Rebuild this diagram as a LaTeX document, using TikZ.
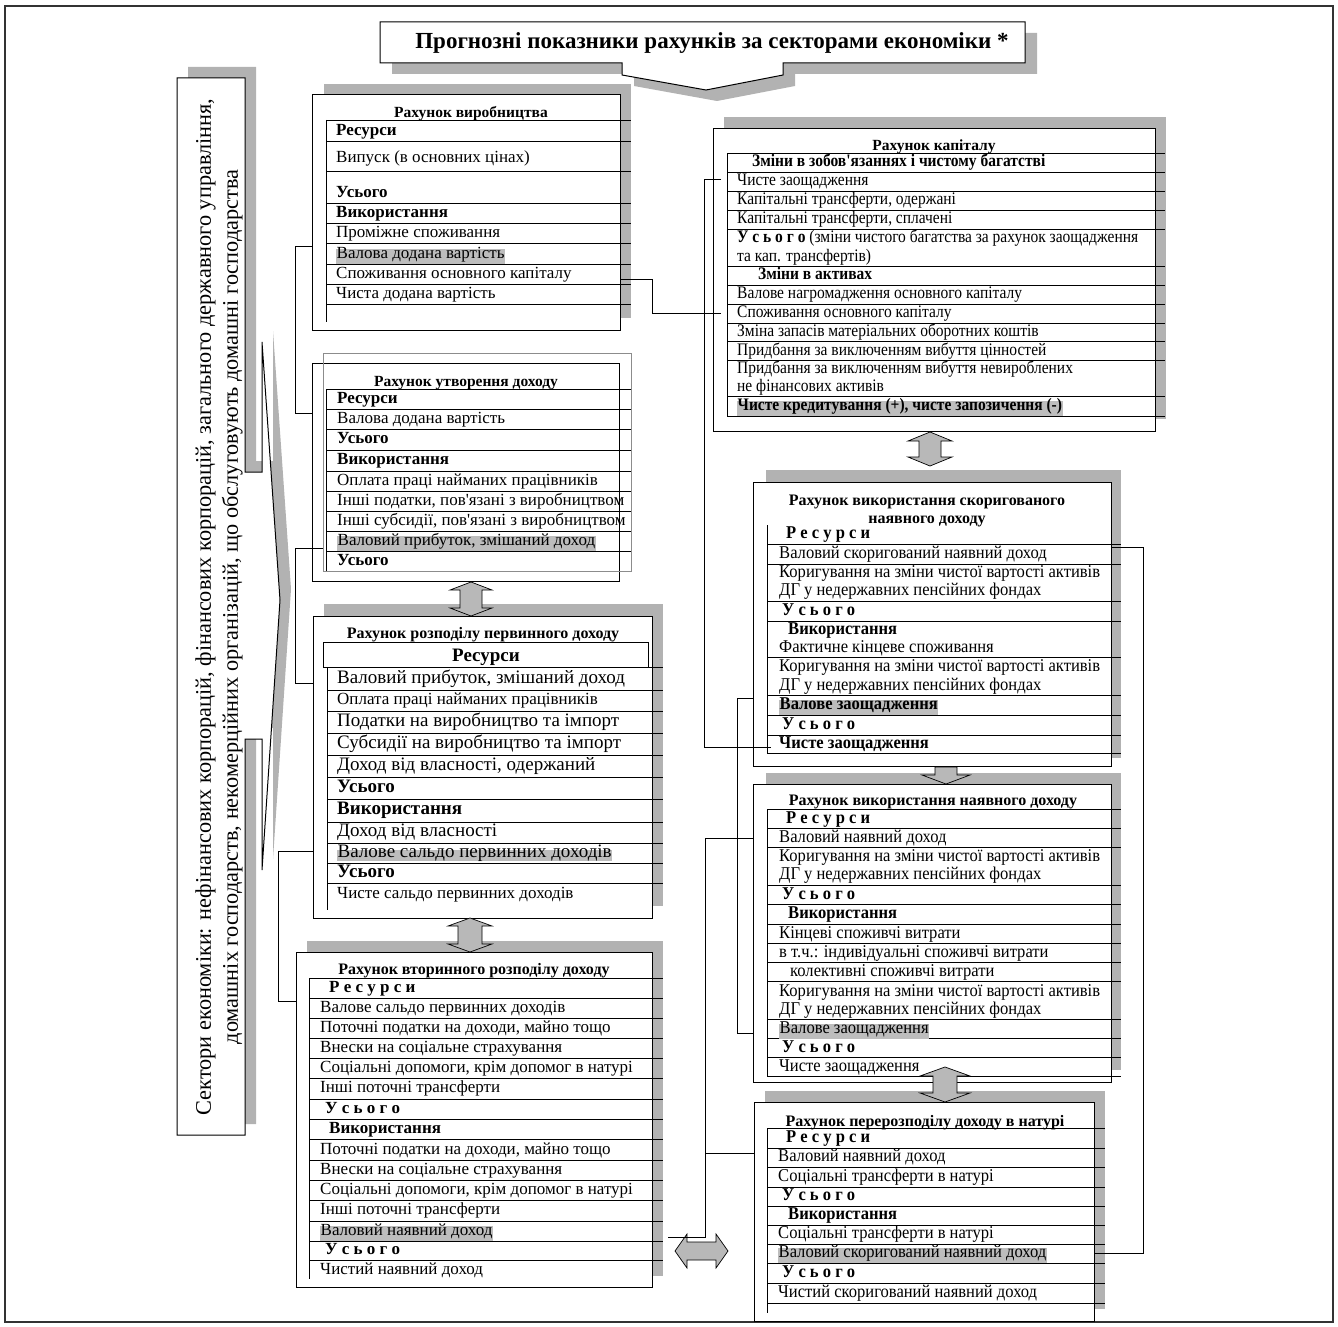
\documentclass[tikz,border=0pt]{standalone}
\usepackage{fontspec}
\setmainfont{Liberation Serif}[Ligatures=TeXOff]
\newfontfamily\condserif{Liberation Serif}[FakeStretch=0.92, Ligatures=TeXOff]
\newfontfamily\capserif{Liberation Serif}[FakeStretch=0.88, Ligatures=TeXOff]
\usetikzlibrary{calc}
\definecolor{shade}{gray}{0.70}
\definecolor{hlgray}{gray}{0.74}
\definecolor{arrgray}{gray}{0.72}

\begin{document}
\begin{tikzpicture}[x=1pt, y=-1pt,
    shadow/.style={fill=shade, draw=none},
    acct/.style={draw, line width=1pt, fill=white},
    rule/.style={line width=0.75pt},
    link/.style={line width=0.9pt},
    blockarrow/.style={draw, fill=arrgray, line width=0.7pt},
    ttl/.style={inner sep=0pt, align=center, yshift=-2pt, font=\bfseries\fontsize{15.5}{18}\selectfont},
    cell/.style={anchor=west, inner sep=0pt, yshift=-2.5pt, text height=0.7em, text depth=0.22em},
    cA/.style={cell, font=\fontsize{17}{19}\selectfont},
    cAb/.style={cell, font=\bfseries\fontsize{17}{19}\selectfont},
    cB/.style={cell, font=\fontsize{19}{21}\selectfont},
    cBb/.style={cell, font=\bfseries\fontsize{19}{21}\selectfont},
    cC/.style={cell, font=\capserif\fontsize{17.6}{19}\selectfont},
    cCb/.style={cell, font=\capserif\bfseries\fontsize{17.6}{19}\selectfont},
    cD/.style={cell, font=\condserif\fontsize{18}{20}\selectfont},
    cDb/.style={cell, font=\condserif\bfseries\fontsize{18}{20}\selectfont},
    hl/.style={fill=hlgray, inner xsep=0.5pt, inner ysep=2.5pt}
]
    \useasboundingbox (0,0) rectangle (1338,1327);
    \draw[line width=2pt, black!80] (5,6) rectangle (1333,1322);

    % title
    \fill[shadow] (392,33) -- (1037,33) -- (1037,74) -- (795,74) -- (795,86) -- (717,101) -- (634,86) -- (634,74) -- (392,74) -- cycle;
    \draw[acct] (380,22) -- (1025,22) -- (1025,63) -- (783,63) -- (783,75) -- (706,90) -- (622,75) -- (622,63) -- (380,63) -- cycle;
    \node[inner sep=0pt, yshift=-1pt, font=\bfseries\fontsize{23}{26}\selectfont] (head) at (712,42) {Прогнозні показники рахунків за секторами економіки *};

    % sectors
    \fill[shadow] (188,67) -- (256,67) -- (256,461) -- (273,461) -- (273,331) -- (291,589) -- (273,859) -- (273,728) -- (256,728) -- (256,1124) -- (188,1124) -- cycle;
    \draw[acct] (177,78) -- (245,78) -- (245,472) -- (262,472) -- (262,342) -- (280,600) -- (262,870) -- (262,739) -- (245,739) -- (245,1135) -- (177,1135) -- cycle;
    \node[rotate=90, align=center, inner sep=0pt, font=\fontsize{22.3}{27}\selectfont] (sect) at (219,607)
        {Сектори економіки: нефінансових корпорацій, фінансових корпорацій, загального державного управління,\\
         домашніх господарств, некомерційних організацій, що обслуговують домашні господарства};

    % production account
    \fill[shadow] (324,84) rectangle (631,318);
    \draw[acct] (312,95) rectangle (620,330);
    \node[ttl] (vyr) at (471,112) {Рахунок виробництва};
    \foreach \y in {120,141,171,203,223,243,264,284,304}
        \draw[rule] (326,\y) -- (631,\y);
    \draw[rule] (326,120) -- (326,322);
    \node[cAb] (vyr1) at (336,131) {Ресурси};
    \node[cA] (vyr2) at (336,158) {Випуск (в основних цінах)};
    \node[cAb] (vyr3) at (336,193) {Усього};
    \node[cAb] (vyr4) at (336,213) {Використання};
    \node[cA] (vyr5) at (336,233) {Проміжне споживання};
    \node[cA, hl] (vyr6) at (336,254) {Валова додана вартість};
    \node[cA] (vyr7) at (336,274) {Споживання основного капіталу};
    \node[cA] (vyr8) at (336,294) {Чиста додана вартість};

    % generation of income account
    \draw[acct] (312,363) rectangle (619,581);
    \draw[line width=0.8pt, black!45] (323,353) rectangle (631,571);
    \node[ttl] (ut) at (466,381) {Рахунок утворення доходу};
    \foreach \y in {389,409,429,450,471,491,511,531,551}
        \draw[rule] (326,\y) -- (631,\y);
    \draw[rule] (326,389) -- (326,571);
    \node[cAb] (ut1) at (337,399) {Ресурси};
    \node[cA] (ut2) at (337,419) {Валова додана вартість};
    \node[cAb] (ut3) at (337,439) {Усього};
    \node[cAb] (ut4) at (337,460) {Використання};
    \node[cA] (ut5) at (337,481) {Оплата праці найманих працівників};
    \node[cA] (ut6) at (337,501) {Інші податки, пов'язані з виробництвом};
    \node[cA] (ut7) at (337,521) {Інші субсидії, пов'язані з виробництвом};
    \node[cA, hl] (ut8) at (337,541) {Валовий прибуток, змішаний доход};
    \node[cAb] (ut9) at (337,561) {Усього};

    % allocation of primary income account
    \fill[shadow] (324,604) rectangle (663,906);
    \draw[acct] (313,616) rectangle (652,918);
    \node[ttl, font=\bfseries\fontsize{16}{18}\selectfont] (pr) at (483,633) {Рахунок розподілу первинного доходу};
    \draw[line width=0.8pt] (323,642) rectangle (648,667);
    \node[inner sep=0pt, yshift=-2pt, font=\bfseries\fontsize{19}{21}\selectfont] (pr0) at (486,655) {Ресурси};
    \foreach \y in {667,690,711,733,755,777,799,822,843,863,883}
        \draw[rule] (327,\y) -- (663,\y);
    \draw[rule] (327,667) -- (327,910);
    \node[cB] (pr1) at (337,679) {Валовий прибуток, змішаний доход};
    \node[cA] (pr2) at (337,700) {Оплата праці найманих працівників};
    \node[cB] (pr3) at (337,722) {Податки на виробництво та імпорт};
    \node[cB] (pr4) at (337,744) {Субсидії на виробництво та імпорт};
    \node[cB] (pr5) at (337,766) {Доход від власності, одержаний};
    \node[cBb] (pr6) at (337,788) {Усього};
    \node[cBb] (pr7) at (337,810) {Використання};
    \node[cB] (pr8) at (337,832) {Доход від власності};
    \node[cB, hl, inner ysep=1pt] (pr9) at (337,853) {Валове сальдо первинних доходів};
    \node[cBb] (pr10) at (337,873) {Усього};
    \node[cA] (pr11) at (337,894) {Чисте сальдо первинних доходів};

    % secondary distribution of income account
    \fill[shadow] (307,941) rectangle (663,1276);
    \draw[acct] (296,952) rectangle (652,1287);
    \node[ttl, font=\bfseries\fontsize{16}{18}\selectfont] (vt) at (474,969) {Рахунок вторинного розподілу доходу};
    \foreach \y in {978,998,1018,1038,1058,1078,1099,1119,1139,1160,1180,1200,1221,1241,1260}
        \draw[rule] (309,\y) -- (663,\y);
    \draw[rule] (309,978) -- (309,1279);
    \node[cAb] (vt1) at (329,988) {Р е с у р с и};
    \node[cA] (vt2) at (320,1008) {Валове сальдо первинних доходів};
    \node[cA] (vt3) at (320,1028) {Поточні податки на доходи, майно тощо};
    \node[cA] (vt4) at (320,1048) {Внески на соціальне страхування};
    \node[cA] (vt5) at (320,1068) {Соціальні допомоги, крім допомог в натурі};
    \node[cA] (vt6) at (320,1088) {Інші поточні трансферти};
    \node[cAb] (vt7) at (325,1109) {У с ь о г о};
    \node[cAb] (vt8) at (329,1129) {Використання};
    \node[cA] (vt9) at (320,1150) {Поточні податки на доходи, майно тощо};
    \node[cA] (vt10) at (320,1170) {Внески на соціальне страхування};
    \node[cA] (vt11) at (320,1190) {Соціальні допомоги, крім допомог в натурі};
    \node[cA] (vt12) at (320,1210) {Інші поточні трансферти};
    \node[cA, hl] (vt13) at (320,1231) {Валовий наявний доход};
    \node[cAb] (vt14) at (325,1250) {У с ь о г о};
    \node[cA] (vt15) at (320,1270) {Чистий наявний доход};

    % capital account
    \fill[shadow] (724,117) rectangle (1166,419);
    \draw[acct] (713,129) rectangle (1155,431);
    \node[ttl] (kap) at (934,145) {Рахунок капіталу};
    \foreach \y in {153,172,191,210,229,266,285,304,323,341,360,396,416}
        \draw[rule] (727,\y) -- (1165,\y);
    \draw[rule] (727,153) -- (727,416);
    \node[cCb] (kap1) at (752,162) {Зміни в зобов'язаннях і чистому багатстві};
    \node[cC] (kap2) at (737,181) {Чисте заощадження};
    \node[cC] (kap3) at (737,200) {Капітальні трансферти, одержані};
    \node[cC] (kap4) at (737,219) {Капітальні трансферти, сплачені};
    \node[cC] (kap5) at (737,238) {{\bfseries У с ь о г о} (зміни чистого багатства за рахунок заощадження};
    \node[cC] (kap6) at (737,257) {та кап. трансфертів)};
    \node[cCb] (kap7) at (758,275) {Зміни в активах};
    \node[cC] (kap8) at (737,294) {Валове нагромадження основного капіталу};
    \node[cC] (kap9) at (737,313) {Споживання основного капіталу};
    \node[cC] (kap10) at (737,332) {Зміна запасів матеріальних оборотних коштів};
    \node[cC] (kap11) at (737,351) {Придбання за виключенням вибуття цінностей};
    \node[cC] (kap12) at (737,369) {Придбання за виключенням вибуття невироблених};
    \node[cC] (kap13) at (737,387) {не фінансових активів};
    \node[cCb, hl] (kap14) at (737,406) {Чисте кредитування (+), чисте запозичення (-)};

    % use of adjusted disposable income account
    \fill[shadow] (766,470) rectangle (1121,758);
    \draw[acct] (753,482) rectangle (1111,766);
    \node[ttl, font=\bfseries\fontsize{16}{18}\selectfont] (sk) at (927,509) {Рахунок використання скоригованого\\наявного доходу};
    \foreach \y in {544,564,601,621,657,695,715,735,753}
        \draw[rule] (767,\y) -- (1121,\y);
    \draw[rule] (767,525) -- (767,753);
    \node[cDb] (sk1) at (786,534) {Р е с у р с и};
    \node[cD] (sk2) at (779,554) {Валовий скоригований наявний доход};
    \node[cD] (sk3) at (779,573) {Коригування на зміни чистої вартості активів};
    \node[cD] (sk4) at (779,591) {ДГ у недержавних пенсійних фондах};
    \node[cDb] (sk5) at (782,611) {У с ь о г о};
    \node[cDb] (sk6) at (788,630) {Використання};
    \node[cD] (sk7) at (779,648) {Фактичне кінцеве споживання};
    \node[cD] (sk8) at (779,667) {Коригування на зміни чистої вартості активів};
    \node[cD] (sk9) at (779,686) {ДГ у недержавних пенсійних фондах};
    \node[cDb, hl] (sk10) at (779,705) {Валове заощадження};
    \node[cDb] (sk11) at (782,725) {У с ь о г о};
    \node[cDb] (sk12) at (779,744) {Чисте заощадження};

    % use of disposable income account
    \fill[shadow] (766,773) rectangle (1121,1070);
    \draw[acct] (753,784) rectangle (1111,1082);
    \node[ttl, font=\bfseries\fontsize{16}{18}\selectfont] (nd) at (933,800) {Рахунок використання наявного доходу};
    \foreach \y in {809,828,847,885,904,924,943,962,981,1019,1038,1057,1076}
        \draw[rule] (767,\y) -- (1121,\y);
    \draw[rule] (767,809) -- (767,1076);
    \node[cDb] (nd1) at (786,819) {Р е с у р с и};
    \node[cD] (nd2) at (779,838) {Валовий наявний доход};
    \node[cD] (nd3) at (779,857) {Коригування на зміни чистої вартості активів};
    \node[cD] (nd4) at (779,875) {ДГ у недержавних пенсійних фондах};
    \node[cDb] (nd5) at (782,895) {У с ь о г о};
    \node[cDb] (nd6) at (788,914) {Використання};
    \node[cD] (nd7) at (779,934) {Кінцеві споживчі витрати};
    \node[cD] (nd8) at (779,953) {в т.ч.: індивідуальні споживчі витрати};
    \node[cD] (nd9) at (790,972) {колективні споживчі витрати};
    \node[cD] (nd10) at (779,992) {Коригування на зміни чистої вартості активів};
    \node[cD] (nd11) at (779,1010) {ДГ у недержавних пенсійних фондах};
    \node[cD, hl] (nd12) at (779,1029) {Валове заощадження};
    \node[cDb] (nd13) at (782,1048) {У с ь о г о};
    \node[cD] (nd14) at (779,1067) {Чисте заощадження};

    % redistribution of income in kind account
    \fill[shadow] (765,1091) rectangle (1105,1309);
    \draw[acct] (754,1102) rectangle (1094,1321);
    \node[ttl, font=\bfseries\fontsize{16}{18}\selectfont] (nt) at (925,1121) {Рахунок перерозподілу доходу в натурі};
    \foreach \y in {1128,1148,1167,1187,1206,1225,1244,1263,1283,1303}
        \draw[rule] (767,\y) -- (1105,\y);
    \draw[rule] (767,1128) -- (767,1313);
    \node[cDb] (nt1) at (786,1138) {Р е с у р с и};
    \node[cD] (nt2) at (778,1157) {Валовий наявний доход};
    \node[cD] (nt3) at (778,1177) {Соціальні трансферти в натурі};
    \node[cDb] (nt4) at (782,1196) {У с ь о г о};
    \node[cDb] (nt5) at (788,1215) {Використання};
    \node[cD] (nt6) at (778,1234) {Соціальні трансферти в натурі};
    \node[cD, hl] (nt7) at (778,1253) {Валовий скоригований наявний доход};
    \node[cDb] (nt8) at (782,1273) {У с ь о г о};
    \node[cD] (nt9) at (778,1293) {Чистий скоригований наявний доход};

    % block arrows
    \filldraw[blockarrow] (471,582) -- (492,590) -- (482,590) -- (482,608) -- (492,608) -- (471,616) -- (450,608) -- (460,608) -- (460,590) -- (450,590) -- cycle;
    \filldraw[blockarrow] (470,918) -- (492,926) -- (482,926) -- (482,944) -- (492,944) -- (470,952) -- (448,944) -- (458,944) -- (458,926) -- (448,926) -- cycle;
    \filldraw[blockarrow] (930,432) -- (952,441) -- (941,441) -- (941,457) -- (952,457) -- (930,466) -- (908,457) -- (919,457) -- (919,441) -- (908,441) -- cycle;
    \filldraw[blockarrow] (935,767) -- (957,767) -- (957,775) -- (970,775) -- (946,784) -- (922,775) -- (935,775) -- cycle;
    \filldraw[blockarrow] (945,1067) -- (970,1076) -- (957,1076) -- (957,1093) -- (970,1093) -- (945,1102) -- (920,1093) -- (933,1093) -- (933,1076) -- (920,1076) -- cycle;
    \filldraw[blockarrow] (675,1251) -- (687,1234) -- (687,1242) -- (716,1242) -- (716,1234) -- (728,1251) -- (716,1268) -- (716,1260) -- (687,1260) -- (687,1268) -- cycle;

    % links between rows
    \coordinate (vyrL) at (312,246);
    \coordinate (utL) at (312,413);
    \coordinate (utP) at (323,548);
    \coordinate (prP) at (313,683);
    \coordinate (prS) at (313,851);
    \coordinate (vtS) at (296,1001);
    \coordinate (vyrK) at (620,279);
    \coordinate (kapK) at (721,313);
    \coordinate (kapZ) at (721,179);
    \coordinate (skZ) at (771,747);
    \coordinate (skV) at (753,698);
    \coordinate (ndV) at (753,1033);
    \coordinate (ndD) at (753,838);
    \coordinate (vtD) at (668,1237);
    \coordinate (ntD) at (754,1153);
    \coordinate (ntS) at (1094,1253);
    \coordinate (skS) at (1111,547);
    \draw[link] (vyrL) -- ++(-17,0) |- (utL);
    \draw[link] (utP) -- ++(-28,0) |- (prP);
    \draw[link] (prS) -- ++(-35,0) |- (vtS);
    \draw[link] (vyrK) -- ++(32,0) |- (kapK);
    \draw[link] (kapZ) -- ++(-17,0) |- (skZ);
    \draw[link] (skV) -- ++(-16,0) |- (ndV);
    \draw[link] (ndD) -- ++(-48,0) |- (vtD);
    \draw[link] (ntD) -- ++(-49,0);
    \draw[link] (ntS) -- ++(49,0) |- (skS);
\end{tikzpicture}
\end{document}
